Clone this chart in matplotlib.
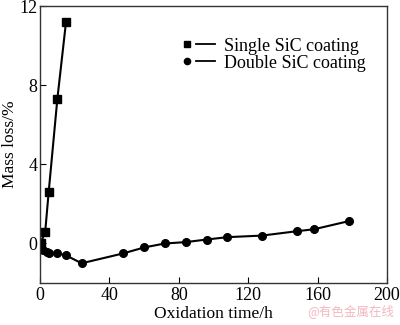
import matplotlib.pyplot as plt
from matplotlib.legend_handler import HandlerBase
from matplotlib.lines import Line2D

# oxidation time (h) and mass loss (%)
single_t = [0, 0.5, 3, 5, 10, 15]
single_loss = [0, 0.05, 0.6, 2.6, 7.3, 11.2]

double_t = [0, 1.5, 4, 5, 10, 15, 24, 48, 60, 72, 84, 96, 108, 128, 148, 158, 178]
double_loss = [-0.1, -0.35, -0.45, -0.5, -0.5, -0.6, -1.0, -0.5, -0.2, 0.0,
               0.07, 0.2, 0.32, 0.4, 0.62, 0.72, 1.13]

x_ticks = [0, 40, 80, 120, 160, 200]
y_ticks = [0, 4, 8, 12]

plt.rcParams['font.family'] = ['Liberation Serif', 'DejaVu Serif']


class MarkerThenLine(HandlerBase):
    # legend handle drawn as "marker — line"
    def create_artists(self, legend, orig, xdescent, ydescent, width,
                       height, fontsize, trans):
        y = height / 2 - ydescent
        x0 = -xdescent
        m = Line2D([x0 + 2], [y], marker=orig.get_marker(), ms=4.5,
                   color='black', ls='none')
        l = Line2D([x0 + 0.38 * width, x0 + width], [y, y],
                   color='black', lw=1.3)
        m.set_transform(trans)
        l.set_transform(trans)
        return [m, l]


fig = plt.figure(figsize=(4, 3.25), dpi=100)
ax = fig.add_axes([0.1, 0.129, 0.8675, 0.8525])

l1, = ax.plot(single_t, single_loss, color='black', lw=1.5, marker='s', ms=5.5)
l2, = ax.plot(double_t, double_loss, color='black', lw=1.5, marker='o', ms=5.5)

ax.set_xlim(0, 200)
ax.set_ylim(-2, 12)
ax.set_xticks(x_ticks)
ax.set_yticks(y_ticks)
ax.tick_params(direction='in', length=4, labelsize=13, colors='black')
ax.tick_params(axis='x', pad=3)
ax.tick_params(axis='y', pad=2)
ax.set_xlabel('Oxidation time/h', fontsize=12.5, labelpad=1)
ax.set_ylabel('Mass loss/%', fontsize=12.5, labelpad=1)
for s in ax.spines.values():
    s.set_linewidth(1.0)
    s.set_color('#333333')

ax.legend([l1, l2], ['Single SiC coating', 'Double SiC coating'],
          handler_map={l1: MarkerThenLine(), l2: MarkerThenLine()},
          frameon=False, fontsize=13, loc='upper right',
          bbox_to_anchor=(0.985, 0.945), handlelength=1.7, handletextpad=0.5,
          labelspacing=0.0)

fig.text(0.985, 0.02, '@有色金属在线', color='#f2b8c0', fontsize=9, ha='right',
         va='bottom', family=['Noto Sans CJK SC', 'DejaVu Sans'])

fig.savefig('out.png', dpi=100)
